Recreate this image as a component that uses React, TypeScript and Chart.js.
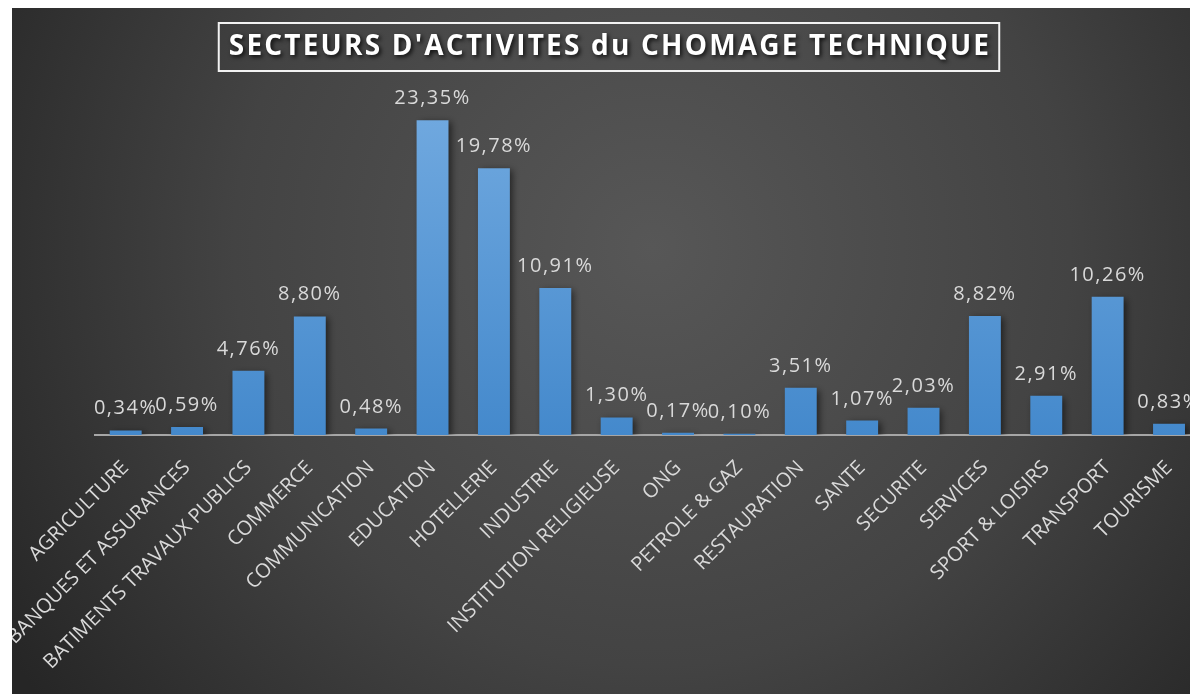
import React, { useEffect, useRef } from "react";
import { Chart, registerables } from "chart.js";

Chart.register(...registerables);

const categories: string[] = [
  "AGRICULTURE",
  "BANQUES ET ASSURANCES",
  "BATIMENTS TRAVAUX PUBLICS",
  "COMMERCE",
  "COMMUNICATION",
  "EDUCATION",
  "HOTELLERIE",
  "INDUSTRIE",
  "INSTITUTION RELIGIEUSE",
  "ONG",
  "PETROLE & GAZ",
  "RESTAURATION",
  "SANTE",
  "SECURITE",
  "SERVICES",
  "SPORT & LOISIRS",
  "TRANSPORT",
  "TOURISME",
];

const shares: number[] = [
  0.34, 0.59, 4.76, 8.8, 0.48, 23.35, 19.78, 10.91, 1.3, 0.17, 0.1, 3.51, 1.07,
  2.03, 8.82, 2.91, 10.26, 0.83,
];

const titleText = "SECTEURS D'ACTIVITES du CHOMAGE TECHNIQUE";

const fmt = (v: number) => v.toFixed(2).replace(".", ",") + "%";

const bgPlugin = {
  id: "bgPlugin",
  beforeDraw(chart: any) {
    const { ctx, width, height } = chart;
    ctx.save();
    const g = ctx.createRadialGradient(640, 240, 0, 640, 240, 760);
    g.addColorStop(0, "#575757");
    g.addColorStop(0.55, "#434343");
    g.addColorStop(1, "#262626");
    ctx.fillStyle = g;
    ctx.fillRect(0, 0, width, height);
    ctx.restore();
  },
};

const titlePlugin = {
  id: "titlePlugin",
  afterDraw(chart: any) {
    const { ctx } = chart;
    ctx.save();
    ctx.font = "bold 28px 'Open Sans'";
    (ctx as any).letterSpacing = "2.2px";
    ctx.textAlign = "center";
    ctx.textBaseline = "middle";
    const cx = 597;
    const cy = 39;
    const w = ctx.measureText(titleText).width;
    ctx.strokeStyle = "#f2f2f2";
    ctx.lineWidth = 2;
    ctx.strokeRect(cx - w / 2 - 9, 15, w + 18, 48);
    ctx.shadowColor = "rgba(0,0,0,0.8)";
    ctx.shadowBlur = 4;
    ctx.shadowOffsetX = 2;
    ctx.shadowOffsetY = 2;
    ctx.fillStyle = "#ffffff";
    ctx.fillText(titleText, cx + 1, cy);
    ctx.restore();
  },
};

const shadowPlugin = {
  id: "shadowPlugin",
  beforeDatasetDraw(chart: any) {
    const { ctx } = chart;
    ctx.save();
    ctx.shadowColor = "rgba(0,0,0,0.55)";
    ctx.shadowBlur = 7;
    ctx.shadowOffsetX = 3;
    ctx.shadowOffsetY = 2;
  },
  afterDatasetDraw(chart: any) {
    chart.ctx.restore();
  },
};

const valueLabelPlugin = {
  id: "valueLabelPlugin",
  afterDatasetsDraw(chart: any) {
    const { ctx } = chart;
    const meta = chart.getDatasetMeta(0);
    ctx.save();
    ctx.font = "20px 'Open Sans'";
    (ctx as any).letterSpacing = "1.5px";
    ctx.fillStyle = "#d9d9d9";
    ctx.textAlign = "center";
    ctx.textBaseline = "alphabetic";
    meta.data.forEach((bar: any, i: number) => {
      const v = chart.data.datasets[0].data[i] as number;
      ctx.fillText(fmt(v), bar.x, bar.y - 16);
    });
    ctx.restore();
  },
};

export default function App() {
  const ref = useRef<HTMLCanvasElement | null>(null);
  useEffect(() => {
    if (!ref.current) return;
    const chart = new Chart(ref.current, {
      type: "bar",
      data: {
        labels: categories,
        datasets: [
          {
            data: shares,
            backgroundColor: (c: any) => {
              const area = c.chart.chartArea;
              if (!area) return "#5b9bd5";
              const g = c.chart.ctx.createLinearGradient(0, area.top, 0, area.bottom);
              g.addColorStop(0, "#72aae0");
              g.addColorStop(1, "#4489cc");
              return g;
            },
            borderWidth: 0,
            barPercentage: 0.52,
            categoryPercentage: 1,
          },
        ],
      },
      options: {
        responsive: false,
        animation: false,
        devicePixelRatio: 1,
        layout: { padding: { top: 90, left: 83, right: 12.3, bottom: 0 } },
        plugins: {
          legend: { display: false },
          title: { display: false },
          tooltip: { enabled: false },
        },
        scales: {
          x: {
            grid: { display: false },
            border: { display: true, color: "#a6a6a6", width: 2 },
            ticks: {
              autoSkip: false,
              minRotation: 45,
              maxRotation: 45,
              padding: 13,
              color: "#d9d9d9",
              font: { family: "'Open Sans'", size: 20 },
            },
            afterFit: (scale: any) => {
              scale.height = 259;
            },
          },
          y: {
            display: false,
            min: 0,
            max: 25,
          },
        },
      },
      plugins: [bgPlugin, shadowPlugin, valueLabelPlugin, titlePlugin],
    });
    return () => chart.destroy();
  }, []);
  return (
    <div
      style={{
        position: "fixed",
        left: 12,
        top: 8,
        width: 1178,
        height: 686,
        overflow: "hidden",
      }}
    >
      <canvas ref={ref} width={1200} height={686} style={{ display: "block" }} />
    </div>
  );
}
